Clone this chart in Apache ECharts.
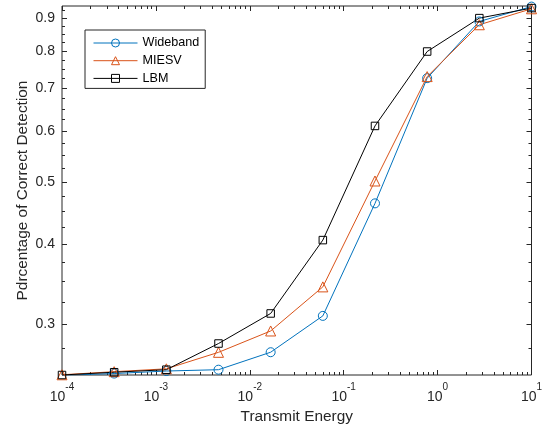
<!DOCTYPE html>
<html>
<head>
<meta charset="UTF-8">
<title>Transmit Energy</title>
<script src="https://cdn.jsdelivr.net/npm/echarts@6/dist/echarts.min.js"></script>
</head>
<body style="margin:0">
<div id="chart" style="width:548px;height:430px"></div>
<script>
// x positions (logspace -4..1, 10 points)
const energy = [1e-4, 3.594e-4, 1.292e-3, 4.642e-3, 1.668e-2, 5.995e-2, 0.2154, 0.7743, 2.783, 10];
const wideband = [0.2498, 0.2513, 0.2536, 0.2548, 0.2713, 0.3091, 0.4629, 0.7255, 0.8893, 0.938];
const miesv    = [0.2502, 0.2530, 0.2556, 0.2712, 0.2928, 0.3430, 0.5016, 0.7296, 0.8788, 0.9306];
const lbm      = [0.2500, 0.2525, 0.2548, 0.2799, 0.3118, 0.4057, 0.6112, 0.7983, 0.9000, 0.933];

const xTicks = [1e-4, 1e-3, 1e-2, 1e-1, 1, 10];
const xMinor = [];
for (let e = -4; e < 1; e++) {
  for (let k = 2; k <= 9; k++) xMinor.push(+(k * Math.pow(10, e)).toPrecision(3));
}
const yTicks = [0.3, 0.4, 0.5, 0.6, 0.7, 0.8, 0.9];
const yMinor = [0.275, 0.325, 0.35, 0.375, 0.425, 0.45, 0.475, 0.525, 0.55, 0.575,
  0.625, 0.65, 0.675, 0.725, 0.75, 0.775, 0.825, 0.85, 0.875, 0.925];

const axisCol = '#262626';
const chart = echarts.init(document.getElementById('chart'));

// one axis = one set of ticks (major / minor, each side of the box)
function axis(pos, min, max, ticks, len, extra) {
  return Object.assign({
    type: 'log', logBase: 10, position: pos, min: min, max: max,
    axisLine: { show: false },
    axisTick: { show: true, inside: true, length: len, customValues: ticks,
      lineStyle: { color: axisCol, width: 1 } },
    axisLabel: { show: false },
    splitLine: { show: false }
  }, extra || {});
}

const xMain = axis('bottom', 1e-4, 10, xTicks, 5, {
  name: 'Transmit Energy', nameLocation: 'middle', nameGap: 34, nameMoveOverlap: false,
  nameTextStyle: { color: axisCol, fontSize: 15.4, fontFamily: 'Liberation Sans' },
  axisLabel: {
    show: true, customValues: xTicks, margin: 7,
    formatter: v => '{b|10}{s|' + Math.round(Math.log10(v)) + '}',
    rich: {
      b: { fontSize: 14, color: axisCol, fontFamily: 'Liberation Sans', lineHeight: 22, verticalAlign: 'bottom' },
      s: { fontSize: 10, color: axisCol, fontFamily: 'Liberation Sans', lineHeight: 14, verticalAlign: 'top' }
    }
  }
});
const yMain = axis('left', 0.25, 0.94, yTicks, 5, {
  name: 'Pdrcentage of Correct Detection', nameLocation: 'middle', nameGap: 32, nameMoveOverlap: false,
  nameTextStyle: { color: axisCol, fontSize: 15.4, fontFamily: 'Liberation Sans' },
  axisLabel: {
    show: true, customValues: yTicks, margin: 7, color: axisCol,
    fontSize: 14, fontFamily: 'Liberation Sans',
    formatter: v => v.toFixed(1)
  }
});

const option = {
  animation: false,
  backgroundColor: '#fff',
  grid: { left: 62, right: 16.5, top: 6, bottom: 55, show: true,
    borderColor: axisCol, borderWidth: 1, outerBoundsMode: 'none' },
  legend: {
    orient: 'vertical', left: 85, top: 30,
    padding: [6, 6, 3, 8],
    itemWidth: 44, itemHeight: 10, itemGap: 3.7,
    borderColor: axisCol, borderWidth: 1, backgroundColor: '#fff',
    lineStyle: { width: 1 },
    itemStyle: { borderWidth: 1 },
    textStyle: { fontSize: 12.6, color: '#000', fontFamily: 'Liberation Sans', lineHeight: 14 },
    data: ['Wideband', 'MIESV', 'LBM']
  },
  xAxis: [
    xMain,
    axis('bottom', 1e-4, 10, xMinor, 3),
    axis('top', 1e-4, 10, xTicks, 5),
    axis('top', 1e-4, 10, xMinor, 3)
  ],
  yAxis: [
    yMain,
    axis('left', 0.25, 0.94, yMinor, 3),
    axis('right', 0.25, 0.94, yTicks, 5),
    axis('right', 0.25, 0.94, yMinor, 3)
  ],
  series: [
    { name: 'Wideband', color: '#0072BD', sym: 'circle', size: 9, vals: wideband },
    { name: 'MIESV', color: '#D95319', sym: 'triangle', size: 10, vals: miesv },
    { name: 'LBM', color: '#000000', sym: 'rect', size: 7.5, vals: lbm }
  ].map(s => ({
    name: s.name, type: 'line', xAxisIndex: 0, yAxisIndex: 0,
    color: s.color,
    symbol: s.sym, symbolSize: s.size, showAllSymbol: true,
    lineStyle: { color: s.color, width: 1 },
    itemStyle: { color: 'transparent', borderColor: s.color, borderWidth: 1 },
    data: energy.map((x, i) => [x, s.vals[i]])
  }))
};
chart.setOption(option);
</script>
</body>
</html>
